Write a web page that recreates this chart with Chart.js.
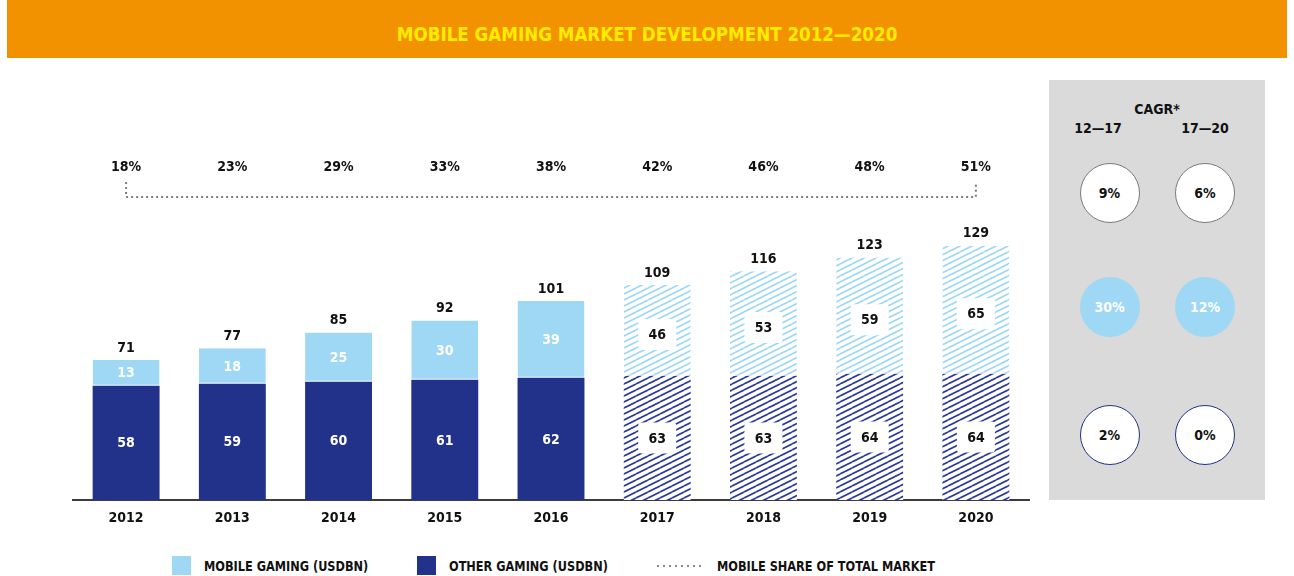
<!DOCTYPE html>
<html>
<head>
<meta charset="utf-8">
<script src="https://cdn.jsdelivr.net/npm/chart.js@4.4.1/dist/chart.umd.min.js"></script>
<style>
  html, body { margin: 0; padding: 0; background: #fff; width: 1294px; height: 576px; overflow: hidden; }
  body { position: relative; font-family: "DejaVu Sans Condensed", "DejaVu Sans", sans-serif; font-weight: bold; font-stretch: condensed; color: #111; }
  #header { position: absolute; left: 7px; top: 0; width: 1280px; height: 58px; background: #F39200; }
  #title { position: absolute; left: 0; right: 0; top: 24px; margin: 0; text-align: center; color: #FFEC00;
           font-size: 20px; line-height: 20px; font-weight: bold; }
  #title span { display: inline-block; transform: scaleX(0.93); }
  #chartBox { position: absolute; left: 0; top: 0; width: 1040px; height: 540px; }
  #cagr { position: absolute; left: 1049px; top: 80px; width: 216px; height: 420px; background: #D9DAD9; }
  .t { position: absolute; transform: translate(-50%, -50%); white-space: nowrap; font-size: 14px; line-height: 14px; }
  .circle { position: absolute; width: 60px; height: 60px; border-radius: 50%; transform: translate(-50%, -50%);
            box-sizing: border-box; display: flex; align-items: center; justify-content: center; font-size: 14px; }
  .c-total { background: #fff; border: 1px solid #7a7a7a; color: #111; }
  .c-mobile { background: #9ED8F5; color: #fff; }
  .c-other { background: #fff; border: 1.5px solid #223189; color: #111; }
  .lg-box { position: absolute; width: 19px; height: 19px; top: 556px; }
  .lg-text { position: absolute; top: 559px; font-size: 14px; line-height: 14px; white-space: nowrap;
             transform: scaleX(0.9); transform-origin: left center; }
  #lgDots { position: absolute; left: 657px; top: 565px; width: 47px; height: 2px;
            background: repeating-linear-gradient(90deg, #8a8a8a 0 2px, transparent 2px 6px); }
</style>
</head>
<body>
<div id="header"><h1 id="title"><span>MOBILE GAMING MARKET DEVELOPMENT 2012—2020</span></h1></div>
<div id="chartBox"><canvas id="chart"></canvas></div>
<div id="cagr"></div>

<div class="lg-box" style="left:172px;background:#9ED8F5"></div>
<div class="lg-text" style="left:204px">MOBILE GAMING (USDBN)</div>
<div class="lg-box" style="left:417px;background:#223189"></div>
<div class="lg-text" style="left:449px">OTHER GAMING (USDBN)</div>
<div id="lgDots"></div>
<div class="lg-text" style="left:717px">MOBILE SHARE OF TOTAL MARKET</div>

<script>
// Market size in USD bn, by year
const years = ['2012', '2013', '2014', '2015', '2016', '2017', '2018', '2019', '2020'];
const mobileGaming = [13, 18, 25, 30, 39, 46, 53, 59, 65];
const otherGaming = [58, 59, 60, 61, 62, 63, 63, 64, 64];
const totalMarket = [71, 77, 85, 92, 101, 109, 116, 123, 129];
const mobileShare = [18, 23, 29, 33, 38, 42, 46, 48, 51];
const forecastStart = 5; // 2017 onwards is a forecast

// Compound annual growth rates (%)
const cagrPeriods = ['12—17', '17—20'];
const cagrTotal = [9, 6];
const cagrMobile = [30, 12];
const cagrOther = [2, 0];

const LIGHT = '#9ED8F5';
const NAVY = '#223189';
const FONT = '"DejaVu Sans Condensed", "DejaVu Sans", sans-serif';

function hatch(color) {
  const w = 12, h = 6;
  const c = document.createElement('canvas');
  c.width = w; c.height = h;
  const g = c.getContext('2d');
  g.fillStyle = '#fff';
  g.fillRect(0, 0, w, h);
  g.strokeStyle = color;
  g.lineWidth = 1.7;
  [-h, 0, h].forEach(dy => {
    g.beginPath();
    g.moveTo(0, h + dy);
    g.lineTo(w, dy);
    g.stroke();
  });
  return g.createPattern(c, 'repeat');
}
const lightHatch = hatch(LIGHT);
const navyHatch = hatch('#2B3A93');

const fills = (solid, pattern) => years.map((_, i) => i >= forecastStart ? pattern : solid);

const barLabels = {
  id: 'barLabels',
  afterDatasetsDraw(chart) {
    const { ctx } = chart;
    ctx.save();
    ctx.font = 'bold 14px ' + FONT;
    ctx.textAlign = 'center';
    ctx.textBaseline = 'middle';
    chart.data.datasets.forEach((ds, di) => {
      chart.getDatasetMeta(di).data.forEach((bar, i) => {
        const { x, y, base } = bar.getProps(['x', 'y', 'base'], true);
        let cy = (y + base) / 2;
        if (i >= forecastStart) {
          if (di === 1) cy += 4;
          ctx.fillStyle = '#fff';
          ctx.beginPath();
          ctx.roundRect(x - 19, cy - 15.5, 38, 31, 3);
          ctx.fill();
          ctx.fillStyle = '#111';
        } else {
          ctx.fillStyle = '#fff';
        }
        ctx.fillText(String(ds.data[i]), x, cy + 1);
      });
    });
    // totals above each stack
    const top = chart.getDatasetMeta(1).data;
    ctx.fillStyle = '#111';
    top.forEach((bar, i) => {
      const { x, y } = bar.getProps(['x', 'y'], true);
      ctx.fillText(String(totalMarket[i]), x, y - 12);
    });
    ctx.restore();
  },
  afterDraw(chart) {
    // mobile share bracket with its yearly values
    const { ctx, chartArea, scales: { x } } = chart;
    const x0 = x.getPixelForValue(0);
    const x1 = x.getPixelForValue(years.length - 1);
    const yLine = chartArea.top - 27;
    const yLabel = chartArea.top - 57;
    ctx.save();
    ctx.strokeStyle = '#7d7d7d';
    ctx.lineWidth = 2;
    ctx.setLineDash([2, 3]);
    ctx.beginPath();
    ctx.moveTo(x0, yLine - 15);
    ctx.lineTo(x0, yLine);
    ctx.lineTo(x1, yLine);
    ctx.lineTo(x1, yLine - 15);
    ctx.stroke();
    ctx.setLineDash([]);
    ctx.font = 'bold 14px ' + FONT;
    ctx.textAlign = 'center';
    ctx.textBaseline = 'middle';
    ctx.fillStyle = '#111';
    mobileShare.forEach((s, i) => ctx.fillText(s + '%', x.getPixelForValue(i), yLabel));
    ctx.restore();
  }
};

Chart.defaults.font.family = FONT;

new Chart(document.getElementById('chart'), {
  type: 'bar',
  data: {
    labels: years,
    datasets: [
      {
        label: 'OTHER GAMING (USDBN)',
        data: otherGaming,
        backgroundColor: fills(NAVY, navyHatch),
        borderWidth: 0
      },
      {
        label: 'MOBILE GAMING (USDBN)',
        data: mobileGaming,
        backgroundColor: fills(LIGHT, lightHatch),
        borderColor: '#fff',
        borderWidth: { top: 0, right: 0, bottom: 1, left: 0 },
        borderSkipped: false
      }
    ]
  },
  options: {
    responsive: true,
    maintainAspectRatio: false,
    animation: false,
    layout: { padding: { left: 73, right: 11, top: 224, bottom: 3.2 } },
    datasets: { bar: { categoryPercentage: 1, barPercentage: 0.63 } },
    plugins: { legend: { display: false }, tooltip: { enabled: false }, title: { display: false } },
    scales: {
      x: {
        stacked: true,
        grid: { display: false, drawTicks: false },
        border: { display: true, color: '#3c3c3c', width: 2 },
        ticks: { color: '#111', padding: 10, font: { size: 14, weight: 'bold' } }
      },
      y: {
        stacked: true,
        display: false,
        min: 0,
        max: 140
      }
    }
  },
  plugins: [barLabels]
});

// CAGR panel
const panel = document.getElementById('cagr');
function add(cls, text, left, top) {
  const d = document.createElement('div');
  d.className = cls;
  d.textContent = text;
  d.style.left = left + 'px';
  d.style.top = top + 'px';
  panel.appendChild(d);
}
add('t', 'CAGR*', 108, 29);
const colX = [60.5, 156];
const labelX = [49, 156];
cagrPeriods.forEach((p, i) => add('t', p, labelX[i], 48));
cagrTotal.forEach((v, i) => add('circle c-total', v + '%', colX[i], 113));
cagrMobile.forEach((v, i) => add('circle c-mobile', v + '%', colX[i], 227));
cagrOther.forEach((v, i) => add('circle c-other', v + '%', colX[i], 355));
</script>
</body>
</html>
